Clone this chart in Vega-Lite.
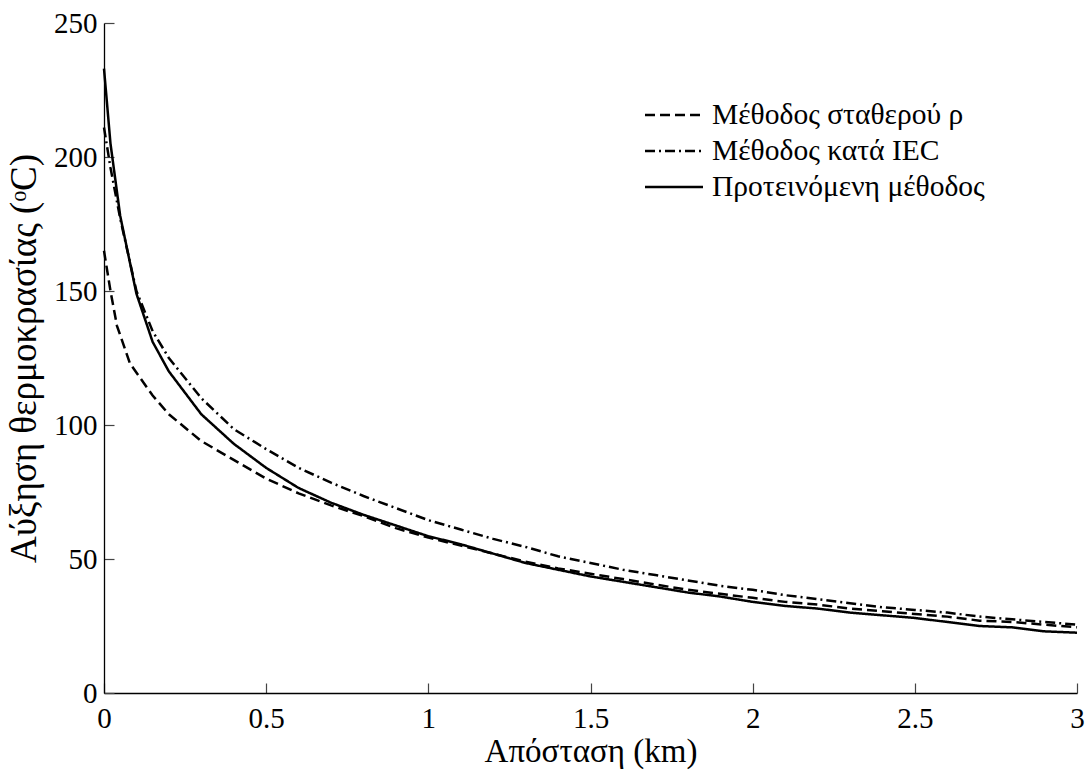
{
  "$schema": "https://vega.github.io/schema/vega-lite/v6.json",
  "width": 973,
  "height": 670,
  "autosize": {"type": "none"},
  "padding": {"left": 104, "top": 23, "right": 12, "bottom": 78},
  "background": "white",
  "config": {
    "font": "Liberation Serif, DejaVu Serif, serif",
    "view": {"stroke": null},
    "axis": {
      "grid": false,
      "domainColor": "#000000",
      "domainWidth": 1.3,
      "tickColor": "#444444",
      "tickWidth": 1.2,
      "tickSize": -10,
      "labelFont": "Liberation Serif, DejaVu Serif, serif",
      "labelFontSize": 29,
      "labelColor": "#000000",
      "titleFont": "Liberation Serif, DejaVu Serif, serif",
      "titleFontWeight": "normal",
      "titleColor": "#000000"
    },
    "legend": {
      "labelFont": "Liberation Serif, DejaVu Serif, serif",
      "labelFontSize": 29.5,
      "labelColor": "#000000",
      "labelLimit": 0
    }
  },
  "datasets": {
    "curves": [
      {"method": "Μέθοδος σταθερού ρ", "x": 0, "y": 165},
      {"method": "Μέθοδος σταθερού ρ", "x": 0.02, "y": 150},
      {"method": "Μέθοδος σταθερού ρ", "x": 0.04, "y": 137},
      {"method": "Μέθοδος σταθερού ρ", "x": 0.08, "y": 123},
      {"method": "Μέθοδος σταθερού ρ", "x": 0.15, "y": 111},
      {"method": "Μέθοδος σταθερού ρ", "x": 0.2, "y": 104},
      {"method": "Μέθοδος σταθερού ρ", "x": 0.3, "y": 94},
      {"method": "Μέθοδος σταθερού ρ", "x": 0.4, "y": 87},
      {"method": "Μέθοδος σταθερού ρ", "x": 0.5, "y": 80},
      {"method": "Μέθοδος σταθερού ρ", "x": 0.6, "y": 74.5},
      {"method": "Μέθοδος σταθερού ρ", "x": 0.7, "y": 70},
      {"method": "Μέθοδος σταθερού ρ", "x": 0.8, "y": 66},
      {"method": "Μέθοδος σταθερού ρ", "x": 0.9, "y": 61.5},
      {"method": "Μέθοδος σταθερού ρ", "x": 1.0, "y": 58},
      {"method": "Μέθοδος σταθερού ρ", "x": 1.1, "y": 55},
      {"method": "Μέθοδος σταθερού ρ", "x": 1.2, "y": 52},
      {"method": "Μέθοδος σταθερού ρ", "x": 1.3, "y": 49},
      {"method": "Μέθοδος σταθερού ρ", "x": 1.4, "y": 46.5},
      {"method": "Μέθοδος σταθερού ρ", "x": 1.5, "y": 44.5},
      {"method": "Μέθοδος σταθερού ρ", "x": 1.6, "y": 42.5},
      {"method": "Μέθοδος σταθερού ρ", "x": 1.7, "y": 40.5},
      {"method": "Μέθοδος σταθερού ρ", "x": 1.8, "y": 38.5},
      {"method": "Μέθοδος σταθερού ρ", "x": 1.9, "y": 37},
      {"method": "Μέθοδος σταθερού ρ", "x": 2.0, "y": 35.5},
      {"method": "Μέθοδος σταθερού ρ", "x": 2.1, "y": 34},
      {"method": "Μέθοδος σταθερού ρ", "x": 2.2, "y": 33},
      {"method": "Μέθοδος σταθερού ρ", "x": 2.3, "y": 31.5},
      {"method": "Μέθοδος σταθερού ρ", "x": 2.4, "y": 30.5},
      {"method": "Μέθοδος σταθερού ρ", "x": 2.5, "y": 29.5},
      {"method": "Μέθοδος σταθερού ρ", "x": 2.6, "y": 28.5},
      {"method": "Μέθοδος σταθερού ρ", "x": 2.7, "y": 27},
      {"method": "Μέθοδος σταθερού ρ", "x": 2.8, "y": 26.5},
      {"method": "Μέθοδος σταθερού ρ", "x": 2.9, "y": 25.5},
      {"method": "Μέθοδος σταθερού ρ", "x": 3.0, "y": 24.5},

      {"method": "Μέθοδος κατά IEC", "x": 0, "y": 211},
      {"method": "Μέθοδος κατά IEC", "x": 0.02, "y": 196},
      {"method": "Μέθοδος κατά IEC", "x": 0.05, "y": 177},
      {"method": "Μέθοδος κατά IEC", "x": 0.1, "y": 150},
      {"method": "Μέθοδος κατά IEC", "x": 0.15, "y": 135},
      {"method": "Μέθοδος κατά IEC", "x": 0.2, "y": 125},
      {"method": "Μέθοδος κατά IEC", "x": 0.3, "y": 110},
      {"method": "Μέθοδος κατά IEC", "x": 0.4, "y": 98.5},
      {"method": "Μέθοδος κατά IEC", "x": 0.5, "y": 91},
      {"method": "Μέθοδος κατά IEC", "x": 0.6, "y": 84},
      {"method": "Μέθοδος κατά IEC", "x": 0.7, "y": 78.5},
      {"method": "Μέθοδος κατά IEC", "x": 0.8, "y": 73.5},
      {"method": "Μέθοδος κατά IEC", "x": 0.9, "y": 69},
      {"method": "Μέθοδος κατά IEC", "x": 1.0, "y": 64.5},
      {"method": "Μέθοδος κατά IEC", "x": 1.1, "y": 61},
      {"method": "Μέθοδος κατά IEC", "x": 1.2, "y": 57.5},
      {"method": "Μέθοδος κατά IEC", "x": 1.3, "y": 54.5},
      {"method": "Μέθοδος κατά IEC", "x": 1.4, "y": 51},
      {"method": "Μέθοδος κατά IEC", "x": 1.5, "y": 48.5},
      {"method": "Μέθοδος κατά IEC", "x": 1.6, "y": 46},
      {"method": "Μέθοδος κατά IEC", "x": 1.7, "y": 44},
      {"method": "Μέθοδος κατά IEC", "x": 1.8, "y": 42},
      {"method": "Μέθοδος κατά IEC", "x": 1.9, "y": 40},
      {"method": "Μέθοδος κατά IEC", "x": 2.0, "y": 38.5},
      {"method": "Μέθοδος κατά IEC", "x": 2.1, "y": 36.5},
      {"method": "Μέθοδος κατά IEC", "x": 2.2, "y": 35},
      {"method": "Μέθοδος κατά IEC", "x": 2.3, "y": 33.5},
      {"method": "Μέθοδος κατά IEC", "x": 2.4, "y": 32},
      {"method": "Μέθοδος κατά IEC", "x": 2.5, "y": 31},
      {"method": "Μέθοδος κατά IEC", "x": 2.6, "y": 30},
      {"method": "Μέθοδος κατά IEC", "x": 2.7, "y": 28.5},
      {"method": "Μέθοδος κατά IEC", "x": 2.8, "y": 27.5},
      {"method": "Μέθοδος κατά IEC", "x": 2.9, "y": 26.5},
      {"method": "Μέθοδος κατά IEC", "x": 3.0, "y": 25.5},

      {"method": "Προτεινόμενη μέθοδος", "x": 0, "y": 233},
      {"method": "Προτεινόμενη μέθοδος", "x": 0.02, "y": 205},
      {"method": "Προτεινόμενη μέθοδος", "x": 0.05, "y": 178},
      {"method": "Προτεινόμενη μέθοδος", "x": 0.1, "y": 149},
      {"method": "Προτεινόμενη μέθοδος", "x": 0.15, "y": 131},
      {"method": "Προτεινόμενη μέθοδος", "x": 0.2, "y": 120},
      {"method": "Προτεινόμενη μέθοδος", "x": 0.3, "y": 104},
      {"method": "Προτεινόμενη μέθοδος", "x": 0.4, "y": 93},
      {"method": "Προτεινόμενη μέθοδος", "x": 0.5, "y": 84},
      {"method": "Προτεινόμενη μέθοδος", "x": 0.6, "y": 76.5},
      {"method": "Προτεινόμενη μέθοδος", "x": 0.7, "y": 71},
      {"method": "Προτεινόμενη μέθοδος", "x": 0.8, "y": 66.5},
      {"method": "Προτεινόμενη μέθοδος", "x": 0.9, "y": 62.5},
      {"method": "Προτεινόμενη μέθοδος", "x": 1.0, "y": 58.5},
      {"method": "Προτεινόμενη μέθοδος", "x": 1.1, "y": 55.5},
      {"method": "Προτεινόμενη μέθοδος", "x": 1.2, "y": 52},
      {"method": "Προτεινόμενη μέθοδος", "x": 1.3, "y": 48.5},
      {"method": "Προτεινόμενη μέθοδος", "x": 1.4, "y": 46},
      {"method": "Προτεινόμενη μέθοδος", "x": 1.5, "y": 43.5},
      {"method": "Προτεινόμενη μέθοδος", "x": 1.6, "y": 41.5},
      {"method": "Προτεινόμενη μέθοδος", "x": 1.7, "y": 39.5},
      {"method": "Προτεινόμενη μέθοδος", "x": 1.8, "y": 37.5},
      {"method": "Προτεινόμενη μέθοδος", "x": 1.9, "y": 36},
      {"method": "Προτεινόμενη μέθοδος", "x": 2.0, "y": 34},
      {"method": "Προτεινόμενη μέθοδος", "x": 2.1, "y": 32.5},
      {"method": "Προτεινόμενη μέθοδος", "x": 2.2, "y": 31.5},
      {"method": "Προτεινόμενη μέθοδος", "x": 2.3, "y": 30},
      {"method": "Προτεινόμενη μέθοδος", "x": 2.4, "y": 29},
      {"method": "Προτεινόμενη μέθοδος", "x": 2.5, "y": 28},
      {"method": "Προτεινόμενη μέθοδος", "x": 2.6, "y": 26.5},
      {"method": "Προτεινόμενη μέθοδος", "x": 2.7, "y": 25},
      {"method": "Προτεινόμενη μέθοδος", "x": 2.8, "y": 24.5},
      {"method": "Προτεινόμενη μέθοδος", "x": 2.9, "y": 23},
      {"method": "Προτεινόμενη μέθοδος", "x": 3.0, "y": 22.5}
    ]
  },
  "data": {"name": "curves"},
  "mark": {"type": "line", "color": "#000000", "strokeWidth": 2.5, "clip": false},
  "encoding": {
    "x": {
      "field": "x",
      "type": "quantitative",
      "scale": {"domain": [0, 3], "nice": false, "zero": false},
      "axis": {
        "title": "Απόσταση (km)",
        "titleFontSize": 33,
        "values": [0, 0.5, 1, 1.5, 2, 2.5, 3],
        "format": "~g",
        "labelPadding": 21,
        "titlePadding": 2,
        "labelFlush": false
      }
    },
    "y": {
      "field": "y",
      "type": "quantitative",
      "scale": {"domain": [0, 250], "nice": false},
      "axis": {
        "title": "Αύξηση θερμοκρασίας (ᵒC)",
        "titleFontSize": 37,
        "values": [0, 50, 100, 150, 200, 250],
        "labelPadding": 17,
        "titlePadding": 10,
        "labelFlush": false
      }
    },
    "strokeDash": {
      "field": "method",
      "type": "nominal",
      "scale": {
        "domain": ["Μέθοδος σταθερού ρ", "Μέθοδος κατά IEC", "Προτεινόμενη μέθοδος"],
        "range": [[10, 5], [10, 4, 2, 4], [1, 0]]
      },
      "legend": {
        "title": null,
        "orient": "none",
        "legendX": 554,
        "legendY": 76,
        "symbolType": "M-2,0H2",
        "symbolSize": 841,
        "symbolStrokeWidth": 2.5,
        "symbolStrokeColor": "#000000",
        "symbolFillColor": "transparent",
        "rowPadding": 5,
        "labelOffset": 22
      }
    },
    "detail": {"field": "method"}
  }
}
